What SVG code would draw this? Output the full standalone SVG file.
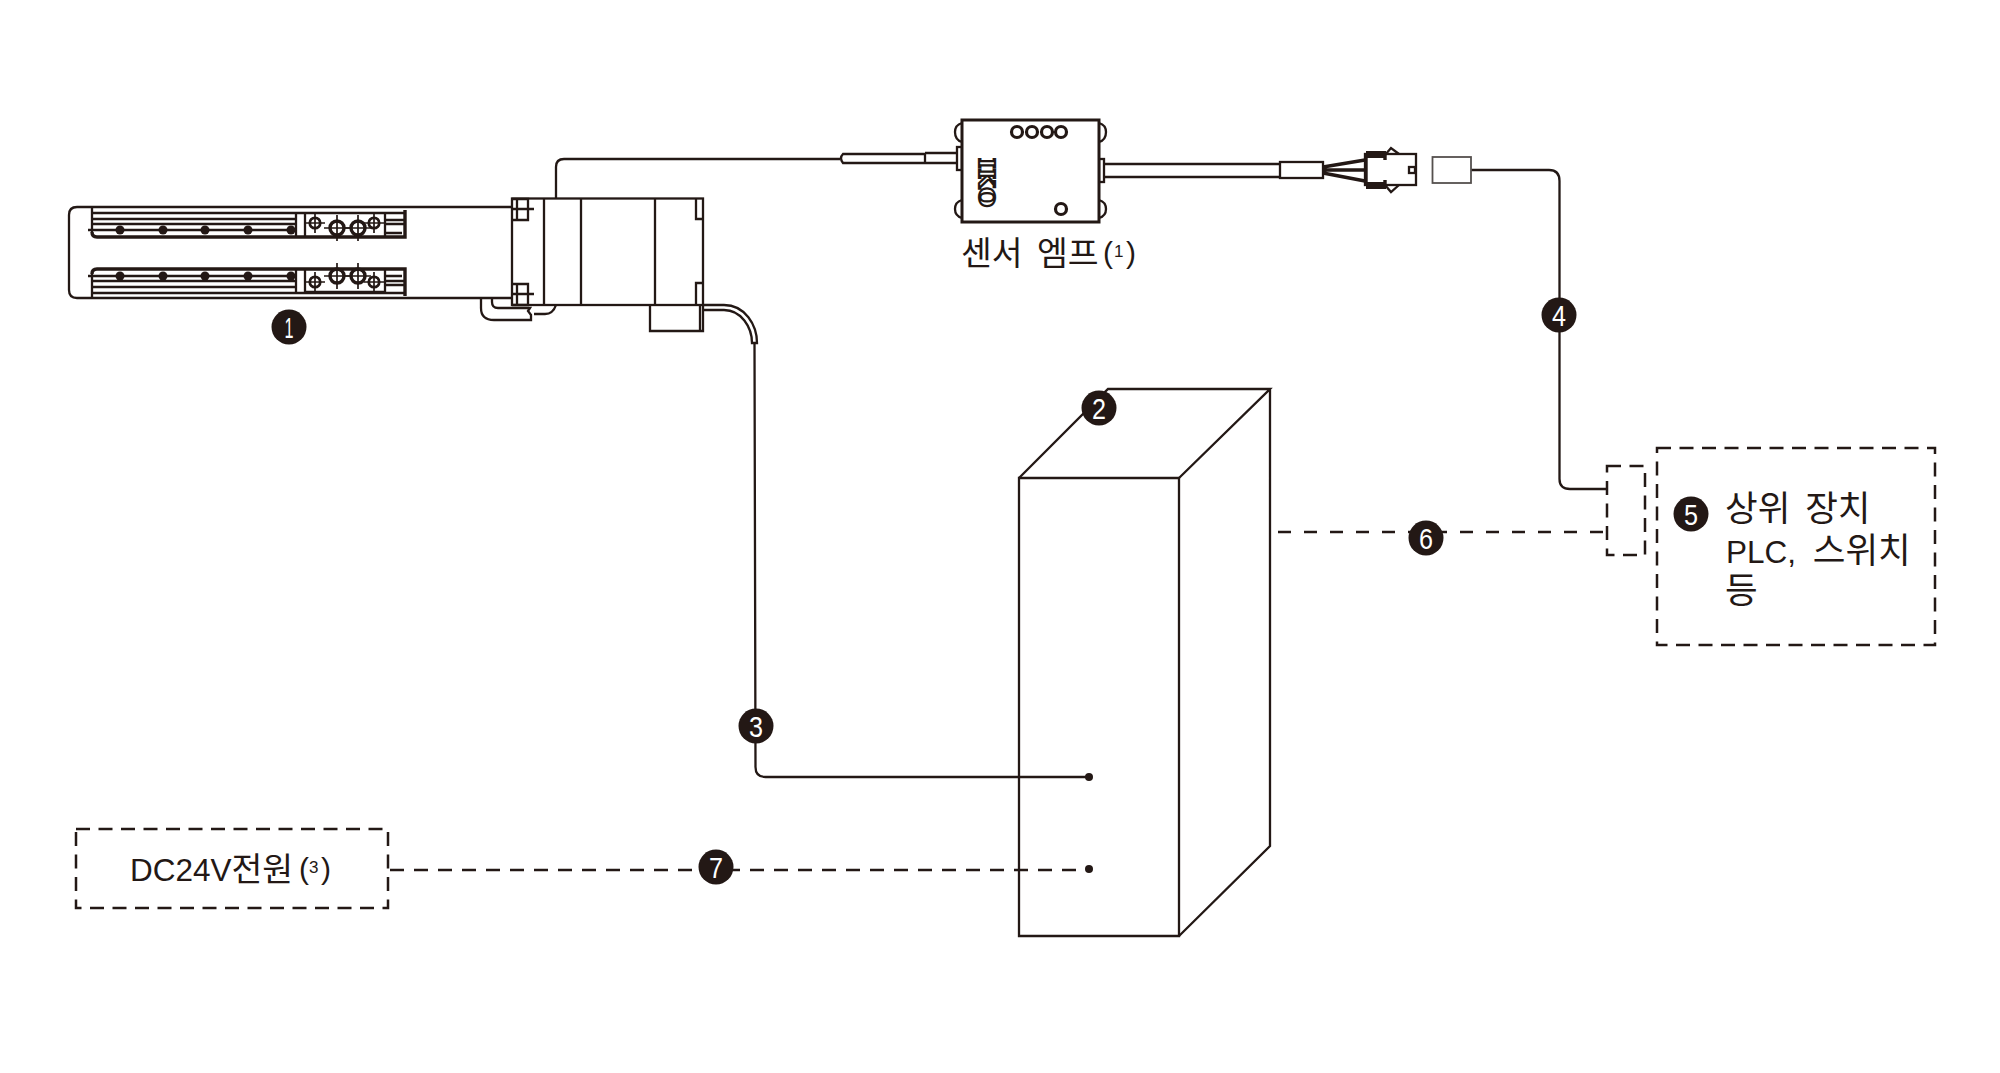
<svg xmlns="http://www.w3.org/2000/svg" width="2000" height="1073" viewBox="0 0 2000 1073">
<defs>
<style>
.l{fill:none;stroke:#231815;stroke-width:2.300}
.t{fill:none;stroke:#231815;stroke-width:1.700}
.h{fill:none;stroke:#231815;stroke-width:3.400}
.d{fill:none;stroke:#231815;stroke-width:2.500;stroke-dasharray:14 8.500}
.c6{fill:none;stroke:#231815;stroke-width:2.500;stroke-dasharray:13 13}
.c7{fill:none;stroke:#231815;stroke-width:2.500;stroke-dasharray:14 10}
.k{fill:#231815}
.o{fill:#fff;stroke:#231815;stroke-width:3.200}
.b{fill:#231815}
.n{fill:#fff;font:30px "Liberation Sans",sans-serif;text-anchor:middle}
.x{fill:#231815;font:31.500px "Liberation Sans","Noto Sans CJK KR",sans-serif}
.g{font-size:35.500px;word-spacing:5px}
.e{font-size:33.500px;word-spacing:5px}
.s{fill:#231815;font:30px "Liberation Sans",sans-serif}
.u{fill:#231815;font:17px "Liberation Sans",sans-serif}
</style>
<g id="hole"><circle r="4.500" class="k"/></g>
<g id="big"><circle r="7" fill="none" stroke="#231815" stroke-width="3.400"/><path class="t" d="M-13 0H13M0-13V13"/></g>
<g id="small"><circle r="5.200" fill="none" stroke="#231815" stroke-width="2.800"/><path class="t" d="M-10 0H10M0-10V10"/></g>
</defs>

<g id="connectors">
<path class="l" d="M556 198V167Q556 159 564 159H840"/>
<path class="l" d="M754.500 343L755.500 767Q755.500 777 765.500 777H1089"/>
<path class="l" d="M1471 170H1549Q1559.500 170 1559.500 181V479Q1559.500 489 1570 489H1607"/>
<path class="c6" d="M1278 532H1605"/>
<path class="c7" d="M390 870H1089"/>
<circle class="k" cx="1089" cy="777" r="4"/>
<circle class="k" cx="1089" cy="869" r="4"/>
</g>

<g id="slider">
<path class="l" d="M512 207H77Q69 207 69 215V290Q69 298 77 298H512"/>
<path class="h" d="M92 232Q92 237 97 237H405V210"/><path class="l" d="M92 207V232"/>
<path class="h" d="M92 274Q92 269 97 269H405V296"/><path class="l" d="M92 298V274"/>
<path class="l" d="M92 213H405M92 219H296M92 224H296M88 230H296M296 213V237M305 213V237M385 213V237M305 213H385M385 220H405M385 224H405M385 233H402"/>
<path class="l" d="M92 293H405M92 287H296M92 281H296M88 276H296M296 269V293M305 269V293M385 269V293M305 292H385M385 285H405M385 281H405M385 276H402"/>
<use href="#hole" x="120" y="230"/><use href="#hole" x="163" y="230"/><use href="#hole" x="205" y="230"/><use href="#hole" x="248" y="230"/><use href="#hole" x="291" y="230"/>
<use href="#hole" x="120" y="276"/><use href="#hole" x="163" y="276"/><use href="#hole" x="205" y="276"/><use href="#hole" x="248" y="276"/><use href="#hole" x="291" y="276"/>
<use href="#small" x="315" y="223"/><use href="#big" x="337" y="228"/><use href="#big" x="358" y="228"/><use href="#small" x="374" y="223"/>
<use href="#small" x="315" y="282"/><use href="#big" x="337" y="276"/><use href="#big" x="358" y="276"/><use href="#small" x="374" y="282"/>
<circle class="b" cx="289" cy="327" r="17.500"/><text class="n" x="289" y="338" textLength="9" lengthAdjust="spacingAndGlyphs">1</text>
</g>

<g id="motor">
<rect class="l" x="512" y="198.500" width="191" height="106.500"/>
<path class="l" d="M544 198V305M581 198V305M655 198V305"/>
<path class="l" d="M512 199H528V220H512M517 199V220M512 209H534M512 284H528V305H512M517 284V305M512 294H534"/>
<path class="l" d="M696 199V219H703M696 305V283H703"/>
<path class="l" d="M650 305V331H703V305M700 305V331"/>
<path class="l" d="M703 305H724C745 305 757 325 757 343H752C752 327 741 310 724 310H703"/>
<path class="l" d="M481 298V308Q481 320 494 320H531V315L528 311L530 308H498Q492 308 492 302V298M534 314H545Q553 314 556 305"/>
</g>

<g id="sensor-amp">
<path class="l" d="M962 123Q955 125 955 132Q955 140 962 142M962 200Q955 202 955 209Q955 216 962 218M1099 123Q1106 125 1106 132Q1106 140 1099 142M1099 200Q1106 202 1106 209Q1106 216 1099 218"/>
<rect class="l" x="957" y="147" width="5" height="23"/>
<rect class="l" x="1099" y="159" width="5" height="23"/>
<rect x="962" y="120" width="137" height="102" fill="#fff" stroke="#231815" stroke-width="3"/>
<path class="l" d="M925 153V163M925 153H957M925 163H957M925 154H843Q839 158 843 163H925"/>
<circle class="o" cx="1017" cy="132" r="5.500"/><circle class="o" cx="1032" cy="132" r="5.500"/><circle class="o" cx="1047" cy="132" r="5.500"/><circle class="o" cx="1061" cy="132" r="5.500"/>
<circle class="o" cx="1061" cy="209" r="5.500"/>
<text transform="translate(978.500 158) rotate(90)" font-family="DejaVu Serif" font-weight="700" font-size="22" fill="#fff" stroke="#231815" stroke-width="2.200" textLength="49" lengthAdjust="spacingAndGlyphs">IKO</text>
<text class="x e" x="961" y="265">센서 엠프</text>
<text class="s" x="1103" y="263">(</text><text class="u" x="1114" y="257">1</text><text class="s" x="1126" y="263">)</text>
</g>

<g id="cable-connector">
<path class="l" d="M1104 164H1280M1104 177H1280"/>
<rect class="l" x="1280" y="162" width="43" height="16"/>
<path class="h" d="M1323 167L1365 160M1323 170H1365M1323 173L1365 181"/>
<path class="l" d="M1385 155L1391 148L1399 154M1385 185L1391 192L1399 185"/>
<rect class="l" x="1365" y="154" width="51" height="31"/>
<path class="h" d="M1366 154V186M1366 156H1385L1385 160M1366 184H1385V180"/>
<rect class="k" x="1366" y="151" width="20" height="7"/><rect class="k" x="1366" y="182" width="20" height="7"/>
<rect class="l" x="1409" y="167" width="6" height="6"/>
<rect x="1432.500" y="157" width="38.500" height="26" fill="none" stroke="#55504e" stroke-width="1.800"/>
</g>

<g id="cabinet">
<path class="l" d="M1019 478H1179V936H1019Z"/>
<path class="l" d="M1019 478L1108 389H1270L1179 478M1270 389V846L1179 936"/>
<circle class="b" cx="1099" cy="408" r="17.500"/><text class="n" x="1099" y="419" textLength="14" lengthAdjust="spacingAndGlyphs">2</text>
</g>

<g id="host-device">
<rect class="d" x="1607" y="466" width="38" height="89"/>
<rect class="d" x="1657" y="448" width="278" height="197"/>
<circle class="b" cx="1691" cy="514" r="17.500"/><text class="n" x="1691" y="525" textLength="14" lengthAdjust="spacingAndGlyphs">5</text>
<text class="x g" x="1725" y="521">상위 장치</text>
<text class="x" x="1726" y="563" style="word-spacing:8px">PLC, <tspan class="g">스위치</tspan></text>
<text class="x g" x="1725" y="603">등</text>
</g>

<g id="power-supply">
<rect class="d" x="76" y="829" width="312" height="79"/>
<text class="x" x="130" y="881">DC24V<tspan class="e">전원</tspan></text>
<text class="s" x="299" y="879">(</text><text class="u" x="309" y="873">3</text><text class="s" x="321" y="879">)</text>
</g>

<g id="badges">
<circle class="b" cx="756" cy="726" r="17.500"/><text class="n" x="756" y="737" textLength="14" lengthAdjust="spacingAndGlyphs">3</text>
<circle class="b" cx="1559" cy="315" r="17.500"/><text class="n" x="1559" y="326" textLength="14" lengthAdjust="spacingAndGlyphs">4</text>
<circle class="b" cx="1426" cy="538" r="17.500"/><text class="n" x="1426" y="549" textLength="14" lengthAdjust="spacingAndGlyphs">6</text>
<circle class="b" cx="716" cy="867" r="17.500"/><text class="n" x="716" y="878" textLength="14" lengthAdjust="spacingAndGlyphs">7</text>
</g>
</svg>
